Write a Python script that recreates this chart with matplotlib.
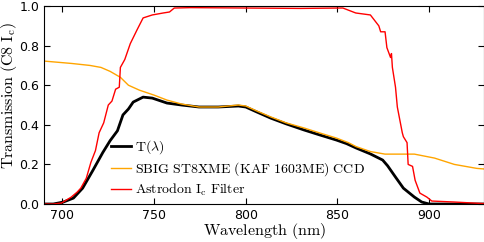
import matplotlib
matplotlib.use("Agg")
import matplotlib.pyplot as plt

plt.rcParams["mathtext.fontset"] = "cm"

# Astrodon Ic filter
filt_wl = [690, 695, 699.5, 704.8, 708, 710, 713, 715.5, 718, 720, 722.5, 725, 727,
           729, 731, 731.6, 734, 737, 740.7, 744, 749, 755, 758.4, 761, 770, 800,
           830, 851, 853, 860, 868, 872.6, 873.6, 876, 877, 879, 879.5, 880, 881.7,
           882.7, 885.4, 886, 888, 888.6, 891, 892.4, 895, 898.8, 901.5, 913.8, 930]
filt_t = [0.0, 0.0, 0.005, 0.035, 0.06, 0.08, 0.13, 0.21, 0.27, 0.36, 0.41, 0.50, 0.52,
          0.58, 0.59, 0.69, 0.73, 0.81, 0.88, 0.94, 0.955, 0.965, 0.97, 0.99, 0.992, 0.99,
          0.988, 0.99, 0.99, 0.965, 0.955, 0.90, 0.87, 0.87, 0.79, 0.74, 0.76, 0.69,
          0.59, 0.49, 0.36, 0.34, 0.31, 0.20, 0.19, 0.12, 0.055, 0.035, 0.015, 0.01, 0.002]

# SBIG ST8XME CCD
ccd_wl = [690, 705, 715, 721, 726, 731.6, 736, 742, 750, 757, 765, 774.5, 785, 796,
          800, 806, 813.6, 822, 831.8, 840, 849.5, 856, 860.2, 868, 876, 884, 892,
          903, 913.8, 926, 930]
ccd_t = [0.722, 0.71, 0.70, 0.69, 0.67, 0.64, 0.60, 0.575, 0.55, 0.525, 0.505, 0.49,
         0.49, 0.50, 0.495, 0.47, 0.44, 0.41, 0.384, 0.36, 0.333, 0.31, 0.29, 0.265,
         0.252, 0.252, 0.252, 0.232, 0.20, 0.18, 0.177]

# combined T(lambda)
t_wl = [690, 695, 700.5, 706, 711, 716.6, 722, 726, 730, 733, 736, 738.6, 744, 749,
        757, 765, 774.5, 785, 796, 800, 806, 813.6, 822, 831.8, 840, 849.5, 855, 860.2,
        868, 874.7, 877.4, 881.7, 886, 892, 896, 900, 915, 930]
t_t = [0.0, 0.0, 0.01, 0.03, 0.08, 0.17, 0.26, 0.32, 0.37, 0.45, 0.48, 0.515, 0.54,
       0.535, 0.51, 0.50, 0.49, 0.49, 0.495, 0.49, 0.465, 0.434, 0.405, 0.374, 0.35,
       0.323, 0.305, 0.283, 0.253, 0.222, 0.193, 0.136, 0.08, 0.035, 0.01, 0.0, 0.0, 0.0]

fig = plt.figure(figsize=(4.85, 2.42), dpi=100)
ax = fig.add_axes([0.091, 0.157, 0.907, 0.818])

ax.plot(t_wl, t_t, color="black", lw=2, label=r"$\mathrm{T}(\lambda)$")
ax.plot(ccd_wl, ccd_t, color="orange", lw=1,
        label=r"$\mathrm{SBIG\ ST8XME\ (KAF\ 1603ME)\ CCD}$")
ax.plot(filt_wl, filt_t, color="red", lw=1, label=r"$\mathrm{Astrodon\ I_c\ Filter}$")

ax.set_xlim(690, 930)
ax.set_ylim(0, 1)
ax.set_xticks([700, 750, 800, 850, 900])
ax.set_yticks([0.0, 0.2, 0.4, 0.6, 0.8, 1.0])
ax.tick_params(direction="in", top=True, right=True, labelsize=9, length=4)
ax.set_xlabel(r"$\mathrm{Wavelength\ (nm)}$", fontsize=11.5, labelpad=-0.6)
ax.set_ylabel(r"$\mathrm{Transmission\ (C8\ I_c)}$", fontsize=11.5)
ax.yaxis.set_label_coords(-0.058, 0.545)

ax.legend(loc="lower left", bbox_to_anchor=(0.123, -0.035), frameon=False, fontsize=10,
          handlelength=1.45, handletextpad=0.3, labelspacing=0.3)

fig.savefig("out.png", dpi=100)
